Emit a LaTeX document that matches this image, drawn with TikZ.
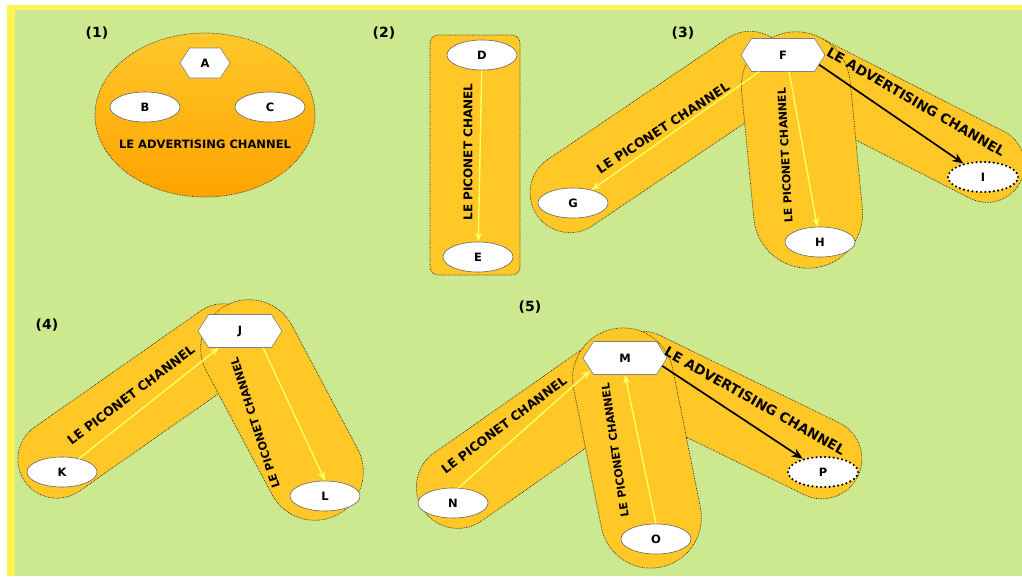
\documentclass[tikz,border=0pt]{standalone}
\usepackage{fontspec}
\setmainfont{DejaVu Sans}
\usepackage{xcolor}
\usepackage{tikz}
\usetikzlibrary{shapes.geometric, shapes.misc, shapes.symbols, arrows.meta}
\definecolor{meadow}{RGB}{205,233,143}
\definecolor{strip}{RGB}{255,243,85}
\definecolor{gold}{RGB}{255,200,38}
\definecolor{goldtop}{RGB}{255,200,42}
\definecolor{goldbottom}{RGB}{255,163,0}
\definecolor{beam}{RGB}{255,255,100}
\tikzset{
  band/.style={rounded rectangle, draw=black!85, densely dotted, line width=0.7pt, fill=gold, inner sep=0pt},
  dev/.style={ellipse, draw=black!60, fill=white, line width=0.6pt, minimum width=70, minimum height=30, inner sep=0pt, font=\bfseries\fontsize{11.5}{11.5}\selectfont},
  adv/.style={dev, draw=black, line width=2.4pt, dash pattern=on 0pt off 4.3pt, line cap=round},
  hub/.style={signal, signal to=east and west, signal pointer angle=115, draw=black!50, fill=white, line width=0.6pt, minimum width=84, minimum height=33, inner sep=0pt, font=\bfseries\fontsize{11.5}{11.5}\selectfont},
  piconet/.style={draw=beam, line width=1.4pt, -{Stealth[length=9pt,width=7pt]}},
  advlink/.style={draw=black, line width=1.7pt, -{Stealth[length=11pt,width=9pt]}},
  chan/.style={inner sep=0pt, font=\bfseries\fontsize{#1}{#1}\selectfont},
  tag/.style={inner sep=0pt, font=\bfseries\fontsize{14}{14}\selectfont}
}

\begin{document}
\begin{tikzpicture}[x=1pt, y=-1pt]
 \useasboundingbox (0,0) rectangle (1022,576);
 \fill[strip] (7,5) rectangle (1022,576);
 \fill[meadow] (15,10) rectangle (1022,576);

 % (1) advertising only
 \node[tag] (lab1) at (97,33) {(1)};
 \node[ellipse, draw=black!80, densely dotted, line width=0.7pt, top color=goldtop, bottom color=goldbottom, minimum width=220, minimum height=164] (cell) at (205,115) {};
 \node[hub, minimum width=50, minimum height=30] (A) at (205,63) {A};
 \node[dev] (B) at (145,107) {B};
 \node[dev] (C) at (270,107) {C};
 \node[chan=11.5] (advtxt) at (205,144) {LE ADVERTISING CHANNEL};

 % (2) one piconet link
 \node[tag] (lab2) at (384,33) {(2)};
 \node[draw=black!85, densely dotted, line width=0.7pt, fill=gold, rounded corners=8, minimum width=90, minimum height=240] (pipe) at (475,155) {};
 \node[dev] (D) at (482,55) {D};
 \node[dev] (E) at (478,257) {E};
 \draw[piconet] (D) -- (E);
 \node[chan=12, rotate=90] (pictxt) at (468,152) {LE PICONET CHANEL};

 % (3) master F
 \node[tag] (lab3) at (683,33) {(3)};
 \node[band, minimum width=297, minimum height=80, rotate=34] (bandG) at (660,132) {};
 \node[band, minimum width=277, minimum height=75, rotate=-27] (bandI) at (897,119) {};
 \node[band, minimum width=237, minimum height=109, rotate=-84.5] (bandH) at (802,150) {};
 \node[hub] (F) at (783,55) {F};
 \node[dev] (G) at (573,203) {G};
 \node[dev] (H) at (820,242) {H};
 \node[adv] (I) at (983,177) {I};
 \draw[piconet] (F) -- (G);
 \draw[piconet] (F.290) -- (H);
 \draw[advlink] (F.-15) -- (I);
 \node[chan=12.7, rotate=33] (txtG) at (663,128) {LE PICONET CHANNEL};
 \node[chan=11, rotate=93] (txtH) at (785,155) {LE PICONET CHANNEL};
 \node[chan=13.6, rotate=-30] (txtI) at (916,102) {LE ADVERTISING CHANNEL};

 % (4) two slaves
 \node[tag] (lab4) at (47,325) {(4)};
 \node[band, minimum width=281, minimum height=78, rotate=35] (bandK) at (140,401) {};
 \node[band, minimum width=237, minimum height=97, rotate=-62] (bandL) at (282,410) {};
 \node[hub] (J) at (240,331) {J};
 \node[dev] (K) at (62,472) {K};
 \node[dev] (L) at (325,496) {L};
 \draw[piconet] (K) -- (J);
 \draw[piconet] (J.-36) -- (L.north);
 \node[chan=12.7, rotate=37] (txtK) at (131,395) {LE PICONET CHANNEL};
 \node[chan=11.2, rotate=108] (txtL) at (255,423) {LE PICONET CHANNEL};

 % (5) master M
 \node[tag] (lab5) at (530,307) {(5)};
 \node[band, minimum width=264, minimum height=83, rotate=35] (bandN) at (532,435) {};
 \node[band, minimum width=280, minimum height=80, rotate=-26] (bandP) at (732,415) {};
 \node[band, minimum width=243, minimum height=101, rotate=-78.7] (bandO) at (637,448) {};
 \node[hub] (M) at (625,358) {M};
 \node[dev] (N) at (453,503) {N};
 \node[dev] (O) at (656,539) {O};
 \node[adv] (P) at (823,472) {P};
 \draw[piconet] (N.70) -- (M.200);
 \draw[piconet] (O.north) -- (M.south);
 \draw[advlink] (M.-12) -- (P);
 \node[chan=12.5, rotate=37] (txtN) at (504,425) {LE PICONET CHANNEL};
 \node[chan=11, rotate=98.5] (txtO) at (615,450) {LE PICONET CHANNEL};
 \node[chan=13.7, rotate=-29.5] (txtP) at (755,401) {LE ADVERTISING CHANNEL};
\end{tikzpicture}
\end{document}
